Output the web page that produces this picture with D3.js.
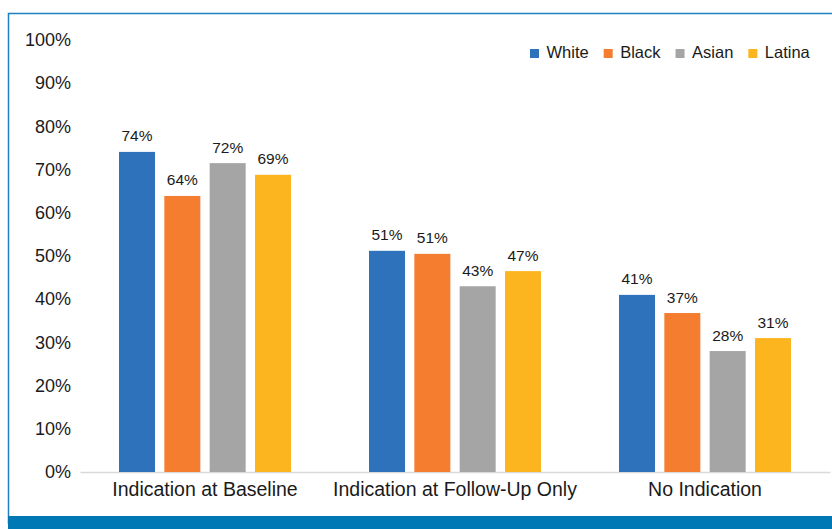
<!DOCTYPE html>
<html>
<head>
<meta charset="utf-8">
<script src="https://cdn.jsdelivr.net/npm/d3@7"></script>
<style>
  body { margin: 0; background: #fff; }
  text { font-family: "Liberation Sans", Arial, sans-serif; fill: #1a1a1a; }
</style>
</head>
<body>
<svg id="svg" width="832" height="529"></svg>
<script>
// chart data
const categories = ['Indication at Baseline', 'Indication at Follow-Up Only', 'No Indication'];
const seriesNames = ['White', 'Black', 'Asian', 'Latina'];
const white = [74.1, 51.2, 41.0];
const black = [63.9, 50.5, 36.8];
const asian = [71.5, 43.0, 28.0];
const latina = [68.8, 46.5, 31.0];
const yTicks = [0, 10, 20, 30, 40, 50, 60, 70, 80, 90, 100];

const colors = ['#2e72bb', '#f57d30', '#a5a5a5', '#fdb51f'];
const seriesValues = [white, black, asian, latina];

const margin = { top: 40, right: 2, bottom: 57, left: 80 };
const width = 832;
const height = 529;

const svg = d3.select('#svg');

// frame + bottom band
svg.append('rect')
  .attr('x', 8.5).attr('y', 13.5)
  .attr('width', 830).attr('height', 510)
  .attr('fill', 'none')
  .attr('stroke', '#1f7fc2')
  .attr('stroke-width', 1.5);

svg.append('rect')
  .attr('x', 8).attr('y', 516)
  .attr('width', 824).attr('height', 13)
  .attr('fill', '#0078b5');

const x0 = d3.scaleBand()
  .domain(categories)
  .range([margin.left, width - margin.right]);

const x1 = d3.scaleBand()
  .domain(seriesNames)
  .range([39, x0.bandwidth() - 39])
  .paddingInner(0.206);

const y = d3.scaleLinear()
  .domain([0, 100])
  .range([height - margin.bottom, margin.top]);

// y axis labels
const yAxis = d3.axisLeft(y)
  .tickValues(yTicks)
  .tickFormat(d => d + '%')
  .tickSize(0)
  .tickPadding(9);

const gy = svg.append('g')
  .attr('transform', 'translate(' + margin.left + ',0)')
  .call(yAxis);
gy.select('.domain').remove();
gy.selectAll('text')
  .style('font-size', '18px')
  .attr('fill', '#1a1a1a');

// x axis
const xAxis = d3.axisBottom(x0).tickSize(0).tickPadding(10);
const gx = svg.append('g')
  .attr('transform', 'translate(0,' + y(0) + ')')
  .call(xAxis);
gx.select('.domain')
  .attr('stroke', '#d9d9d9')
  .attr('stroke-width', 1.5);
gx.selectAll('text')
  .style('font-size', '19.5px')
  .attr('fill', '#1a1a1a');

// bars
const rows = categories.map((c, i) => ({
  cat: c,
  vals: seriesNames.map((s, j) => ({ key: s, value: seriesValues[j][i], color: colors[j] }))
}));

const groups = svg.append('g')
  .selectAll('g')
  .data(rows)
  .join('g')
  .attr('transform', d => 'translate(' + x0(d.cat) + ',0)');

groups.selectAll('rect')
  .data(d => d.vals)
  .join('rect')
  .attr('x', d => x1(d.key))
  .attr('y', d => y(d.value))
  .attr('width', x1.bandwidth())
  .attr('height', d => y(0) - y(d.value))
  .attr('fill', d => d.color);

groups.selectAll('text.lbl')
  .data(d => d.vals)
  .join('text')
  .attr('class', 'lbl')
  .attr('x', d => x1(d.key) + x1.bandwidth() / 2)
  .attr('y', d => y(d.value) - 10.5)
  .attr('text-anchor', 'middle')
  .style('font-size', '15.5px')
  .text(d => Math.round(d.value) + '%');

// legend
const legend = svg.append('g').attr('transform', 'translate(530,53)');
let lx = 0;
seriesNames.forEach((s, i) => {
  legend.append('rect')
    .attr('x', lx).attr('y', -4)
    .attr('width', 9).attr('height', 9)
    .attr('fill', colors[i]);
  const t = legend.append('text')
    .attr('x', lx + 16.5)
    .attr('y', -1)
    .attr('dy', '0.36em')
    .style('font-size', '16.5px')
    .text(s);
  lx += 16.5 + t.node().getComputedTextLength() + 15;
});
</script>
</body>
</html>
